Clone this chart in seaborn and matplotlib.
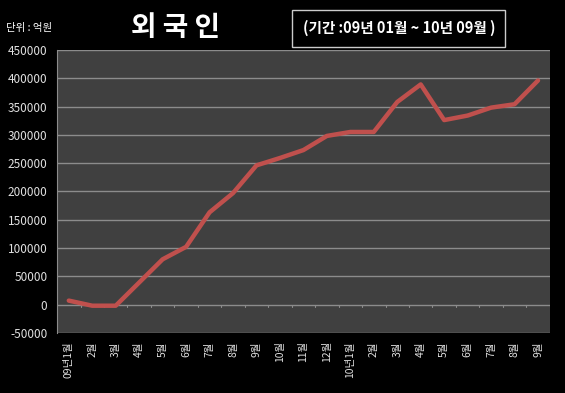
import matplotlib
matplotlib.use("Agg")
import matplotlib.pyplot as plt
import seaborn as sns
import pandas as pd

months = ["09년1월", "2월", "3월", "4월", "5월", "6월", "7월", "8월", "9월", "10월", "11월", "12월",
          "10년1월", "2월", "3월", "4월", "5월", "6월", "7월", "8월", "9월"]
values = [7000, -2000, -2000, 39000, 80000, 102000, 163000, 197000, 246000, 259000, 273000, 298000,
          305000, 305000, 358000, 389000, 326000, 334000, 348000, 354000, 396000]
yticks = list(range(-50000, 450001, 50000))

df = pd.DataFrame({"idx": range(len(months)), "value": values})

sns.set_style("dark")
plt.rcParams['font.family'] = ['Noto Sans CJK KR', 'DejaVu Sans']

fig = plt.figure(figsize=(5.65, 3.93), dpi=100, facecolor="black")
ax = fig.add_axes([0.101, 0.153, 0.872, 0.72])
ax.set_facecolor("#404040")

for y in yticks:
    ax.axhline(y, color="#8c8c8c", lw=1, zorder=1)

sns.lineplot(data=df, x="idx", y="value", color="#c0504d", lw=3.2, ax=ax, zorder=3)

# small category ticks at the zero line
for i in range(len(months)):
    ax.plot([i + 0.5, i + 0.5], [0, -5000], color="#8c8c8c", lw=0.8, zorder=2)

ax.set_xlim(-0.5, len(months) - 0.5)
ax.set_ylim(-50000, 450000)
ax.set_yticks(yticks)
ax.set_yticklabels([str(v) for v in yticks], color="#e0e0e0", fontsize=8.5)
ax.set_xticks(range(len(months)))
ax.set_xticklabels(months, rotation=90, color="#e0e0e0", fontsize=7.5, va="top", ha="center")
ax.tick_params(axis="y", length=5, color="#8c8c8c", pad=2)
ax.tick_params(axis="x", length=0, pad=6)
ax.set_xlabel("")
ax.set_ylabel("")
for s in ["top", "right", "bottom"]:
    ax.spines[s].set_visible(False)
ax.spines["left"].set_color("#8c8c8c")

fig.text(0.01, 0.93, "단위 : 억원", color="white", fontsize=7.5, va="center", ha="left")
fig.text(0.31, 0.928, "외 국 인", color="white", fontsize=20, fontweight="bold", va="center", ha="center")
fig.text(0.706, 0.928, "(기간 :09년 01월 ~ 10년 09월 )", color="white", fontsize=10.5, fontweight="bold",
         va="center", ha="center",
         bbox=dict(boxstyle="square,pad=0.7", facecolor="black", edgecolor="#cccccc", lw=1))

fig.savefig("out.png", dpi=100, facecolor="black")
